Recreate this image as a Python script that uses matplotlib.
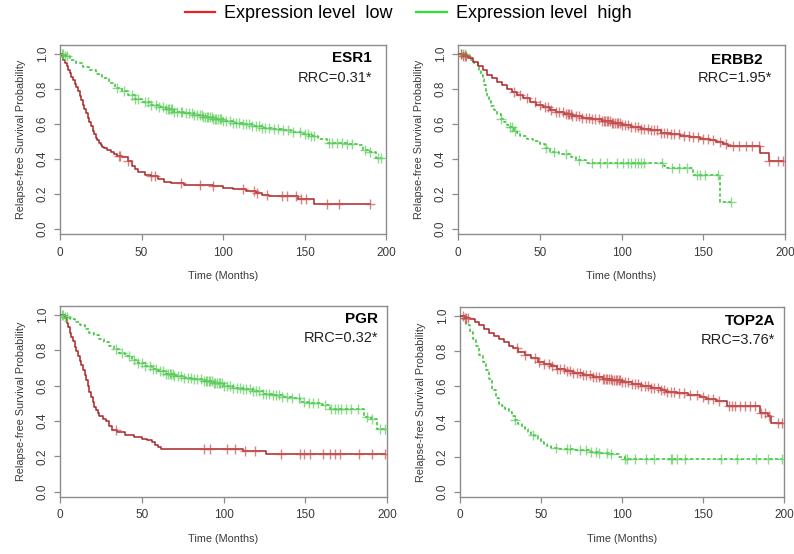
import numpy as np
import matplotlib
matplotlib.use('Agg')
import matplotlib.pyplot as plt
from matplotlib.lines import Line2D

plt.rcParams['font.family'] = ['Liberation Sans', 'DejaVu Sans']

# ---- dados (tempo em meses, sobrevida após o passo) ----
genes = ['ESR1', 'ERBB2', 'PGR', 'TOP2A']
rrc = ['RRC=0.31*', 'RRC=1.95*', 'RRC=0.32*', 'RRC=3.76*']

# ESR1
esr1_low_t = [0, 1, 2, 3, 4, 5, 6, 7, 8, 9, 10, 11, 12, 13, 14, 15, 16, 17, 18, 19, 20, 21, 22, 23, 24, 25, 26, 27,
              29, 31, 33, 35, 38, 42, 44, 46, 48, 52, 56, 60, 64, 68, 76, 94, 100, 106, 114, 120, 124, 128, 146, 156]
esr1_low_s = [1.0, 0.985, 0.965, 0.947, 0.93, 0.91, 0.89, 0.87, 0.85, 0.83, 0.81, 0.785, 0.76, 0.735, 0.71, 0.685,
              0.66, 0.635, 0.61, 0.585, 0.56, 0.54, 0.52, 0.505, 0.49, 0.48, 0.47, 0.46,
              0.45, 0.44, 0.43, 0.418, 0.41, 0.385, 0.36, 0.34, 0.325, 0.31, 0.30, 0.285, 0.27, 0.26, 0.252, 0.245,
              0.235, 0.225, 0.215, 0.205, 0.195, 0.185, 0.17, 0.14]
esr1_low_cens = [36, 37, 42, 56, 58, 74, 86, 94, 112, 119, 121, 127, 136, 139, 145, 148, 151, 164, 171, 190]
esr1_high_t = [0, 3, 6, 10, 14, 18, 22, 26, 30, 34, 38, 42, 46, 50, 55, 60, 65, 70, 76, 82, 88, 94, 100, 106, 112,
               118, 124, 130, 136, 142, 148, 153, 158, 164, 170, 176, 182, 186, 190, 194]
esr1_high_s = [1.0, 0.985, 0.965, 0.947, 0.925, 0.905, 0.885, 0.862, 0.835, 0.805, 0.785, 0.762, 0.742, 0.725, 0.71,
               0.695, 0.682, 0.67, 0.66, 0.648, 0.637, 0.628, 0.618, 0.607, 0.596, 0.585, 0.578, 0.57, 0.562, 0.553,
               0.54, 0.528, 0.515, 0.49, 0.488, 0.485, 0.48, 0.448, 0.44, 0.405]
esr1_high_cens = [1, 2, 3, 4, 35, 39, 44, 46, 48, 52, 54, 56, 59, 61, 63, 65, 66, 67, 68, 69, 70, 72, 74, 75, 77, 79,
                  81, 82, 84, 86, 87, 88, 89, 90, 91, 92, 93, 94, 95, 96, 97, 98, 99, 100, 102, 104, 106, 108, 110,
                  112, 114, 116, 118, 120, 122, 124, 126, 128, 131, 134, 137, 140, 143, 147, 150, 152, 154, 156, 165,
                  167, 170, 173, 176, 179, 187, 190, 195, 197]

# ERBB2
erbb2_low_t = [0, 3, 6, 9, 12, 15, 18, 21, 24, 27, 30, 33, 36, 40, 44, 48, 52, 56, 60, 65, 70, 76, 82, 88, 94, 100,
               106, 112, 118, 124, 130, 136, 142, 148, 154, 158, 162, 165, 185, 190]
erbb2_low_s = [1.0, 0.99, 0.975, 0.955, 0.93, 0.905, 0.88, 0.86, 0.84, 0.82, 0.80, 0.78, 0.765, 0.745, 0.725, 0.71,
               0.695, 0.68, 0.668, 0.655, 0.645, 0.635, 0.625, 0.615, 0.605, 0.593, 0.583, 0.572, 0.562, 0.55, 0.54,
               0.532, 0.525, 0.515, 0.505, 0.495, 0.485, 0.475, 0.435, 0.39]
erbb2_low_cens = [2, 3, 4, 5, 34, 38, 42, 47, 50, 53, 55, 57, 60, 62, 64, 66, 67, 68, 69, 70, 72, 74, 76, 78, 80, 82,
                  84, 86, 88, 89, 90, 91, 92, 93, 94, 95, 96, 97, 98, 99, 100, 102, 104, 106, 108, 110, 112, 114, 116,
                  118, 120, 122, 124, 126, 128, 130, 132, 135, 138, 141, 144, 147, 150, 153, 156, 160, 164, 168, 172,
                  176, 180, 184, 190, 196, 199]
erbb2_high_t = [0, 5, 8, 10, 12, 13, 14, 15, 16, 17, 18, 19, 20, 22, 24, 26, 28, 30, 32, 34, 36, 38, 42, 46, 50, 53,
                56, 62, 69, 72, 78, 126, 128, 144, 160]
erbb2_high_s = [1.0, 0.985, 0.965, 0.945, 0.925, 0.905, 0.88, 0.855, 0.82, 0.79, 0.76, 0.73, 0.70, 0.68, 0.655, 0.63,
                0.61, 0.595, 0.58, 0.56, 0.545, 0.53, 0.515, 0.50, 0.485, 0.46, 0.44, 0.43, 0.41, 0.395, 0.375, 0.36,
                0.35, 0.31, 0.155]
erbb2_high_cens = [2, 3, 4, 26, 32, 33, 35, 54, 59, 66, 74, 82, 87, 91, 97, 101, 104, 106, 108, 110, 112, 114, 125,
                   131, 135, 140, 146, 148, 151, 159, 167]

# PGR
pgr_low_t = [0, 3, 4, 5, 6, 7, 8, 9, 10, 11, 12, 13, 14, 15, 16, 17, 18, 19, 20, 21, 22, 23, 24, 26, 28, 30, 32, 35,
             40, 45, 50, 53, 56, 58, 60, 62, 112, 126]
pgr_low_s = [1.0, 0.98, 0.955, 0.93, 0.90, 0.875, 0.85, 0.82, 0.795, 0.77, 0.74, 0.715, 0.69, 0.66, 0.63, 0.60, 0.565,
             0.535, 0.505, 0.48, 0.46, 0.445, 0.43, 0.41, 0.40, 0.37, 0.35, 0.335, 0.32, 0.31, 0.30, 0.29, 0.28,
             0.265, 0.255, 0.24, 0.228, 0.213]
pgr_low_cens = [34, 88, 92, 102, 107, 113, 119, 135, 147, 149, 153, 161, 165, 168, 171, 183, 191, 199]
pgr_high_t = [0, 3, 6, 9, 12, 15, 18, 21, 24, 27, 30, 33, 36, 40, 44, 48, 52, 56, 60, 65, 70, 76, 82, 88, 94, 100,
              106, 112, 118, 124, 130, 136, 142, 147, 152, 160, 165, 186, 190, 194]
pgr_high_s = [1.0, 0.99, 0.975, 0.96, 0.94, 0.92, 0.90, 0.885, 0.865, 0.845, 0.825, 0.805, 0.785, 0.765, 0.745, 0.725,
              0.71, 0.695, 0.68, 0.665, 0.655, 0.645, 0.635, 0.625, 0.612, 0.60, 0.588, 0.578, 0.568, 0.555, 0.545,
              0.538, 0.53, 0.51, 0.50, 0.49, 0.465, 0.42, 0.41, 0.355]
pgr_high_cens = [1, 2, 3, 4, 34, 38, 42, 45, 48, 50, 52, 55, 57, 59, 61, 63, 65, 66, 67, 68, 69, 70, 72, 74, 76, 78,
                 80, 82, 84, 86, 88, 89, 90, 91, 92, 93, 94, 95, 96, 97, 98, 99, 100, 102, 104, 106, 108, 110, 112,
                 114, 116, 118, 120, 122, 124, 126, 128, 130, 132, 134, 136, 139, 142, 146, 149, 152, 155, 158, 162,
                 166, 168, 170, 172, 175, 178, 182, 188, 191, 196, 199]

# TOP2A
top2a_low_t = [0, 3, 6, 9, 12, 15, 18, 21, 24, 27, 30, 33, 36, 40, 44, 48, 52, 56, 60, 65, 70, 76, 82, 88, 94, 100,
               106, 112, 118, 124, 127, 134, 141, 148, 152, 158, 165, 185, 190, 192]
top2a_low_s = [1.0, 0.99, 0.98, 0.965, 0.945, 0.925, 0.905, 0.888, 0.87, 0.85, 0.83, 0.815, 0.795, 0.775, 0.758, 0.74,
               0.725, 0.712, 0.70, 0.688, 0.676, 0.665, 0.652, 0.642, 0.633, 0.623, 0.612, 0.60, 0.59, 0.578, 0.565,
               0.56, 0.552, 0.54, 0.527, 0.515, 0.485, 0.445, 0.432, 0.392]
top2a_low_cens = [2, 3, 4, 5, 35, 40, 46, 49, 52, 55, 57, 60, 62, 64, 66, 68, 70, 72, 74, 76, 78, 80, 82, 84, 86, 88,
                  89, 90, 91, 92, 93, 94, 95, 96, 97, 98, 99, 100, 102, 104, 106, 108, 110, 112, 114, 116, 118, 120,
                  122, 124, 126, 128, 130, 132, 135, 138, 142, 146, 150, 153, 156, 160, 166, 168, 170, 173, 176, 179,
                  182, 186, 188, 191, 196, 199]
top2a_high_t = [0, 2, 4, 6, 8, 10, 12, 14, 16, 18, 20, 22, 24, 26, 28, 30, 32, 34, 36, 38, 40, 42, 44, 46, 48, 50,
                52, 54, 56, 60, 70, 80, 86, 92, 98, 102]
top2a_high_s = [1.0, 0.98, 0.95, 0.91, 0.87, 0.83, 0.78, 0.735, 0.69, 0.64, 0.58, 0.53, 0.50, 0.485, 0.47, 0.455,
                0.43, 0.405, 0.385, 0.37, 0.355, 0.34, 0.325, 0.315, 0.30, 0.285, 0.27, 0.26, 0.25, 0.245, 0.238,
                0.228, 0.22, 0.212, 0.20, 0.188]
top2a_high_cens = [34, 45, 59, 66, 68, 74, 78, 81, 84, 86, 91, 93, 102, 103, 108, 115, 120, 130, 131, 134, 139, 161,
                   171, 183, 190, 199]

curvas = [
    (esr1_low_t, esr1_low_s, esr1_low_cens, esr1_high_t, esr1_high_s, esr1_high_cens),
    (erbb2_low_t, erbb2_low_s, erbb2_low_cens, erbb2_high_t, erbb2_high_s, erbb2_high_cens),
    (pgr_low_t, pgr_low_s, pgr_low_cens, pgr_high_t, pgr_high_s, pgr_high_cens),
    (top2a_low_t, top2a_low_s, top2a_low_cens, top2a_high_t, top2a_high_s, top2a_high_cens),
]

# posição dos eixos (px): esquerda, topo, direita, baixo
caixas = [(60, 45, 386, 234), (458, 45, 785, 234), (60, 306, 387, 497), (460, 307, 784, 497)]
pos_titulo = [(0.957, 0.93, 0.957, 0.825), (0.933, 0.92, 0.96, 0.825),
              (0.972, 0.93, 0.972, 0.83), (0.972, 0.925, 0.972, 0.825)]

COR_BAIXO = '#a82626'
COR_BAIXO_CENS = '#c85050'
COR_ALTO = '#35c035'
COR_ALTO_CENS = '#5ccc5c'
CINZA = '#8c8c8c'
TEXTO = '#3a3a3a'

W, H = 794, 554


def desenhar_km(ax, t, s, cens, cor, cor_cens, tracejado):
    t = np.asarray(t, float)
    s = np.asarray(s, float)
    fim = max(max(cens), t[-1])
    tx = np.append(t, fim)
    sx = np.append(s, s[-1])
    ls = (0, (2.2, 1.5)) if tracejado else '-'
    ax.step(tx, sx, where='post', color=cor, lw=1.1, linestyle=ls, zorder=3)
    # marcas de censura sobre a curva
    idx = np.searchsorted(t, cens, side='right') - 1
    ax.plot(cens, s[idx], linestyle='none', marker='+', ms=6.5, mew=1.0,
            color=cor_cens, alpha=0.7, zorder=4)


fig = plt.figure(figsize=(W / 100, H / 100), dpi=100)

for i in range(4):
    l, tp, r, b = caixas[i]
    ax = fig.add_axes([l / W, 1 - b / H, (r - l) / W, (b - tp) / H])
    lt, ls_, lc, ht, hs, hc = curvas[i]
    desenhar_km(ax, ht, hs, hc, COR_ALTO, COR_ALTO_CENS, True)
    desenhar_km(ax, lt, ls_, lc, COR_BAIXO, COR_BAIXO_CENS, False)

    ax.set_xlim(0, 200)
    ax.set_ylim(-0.03, 1.05)
    ax.set_xticks([0, 50, 100, 150, 200])
    ax.set_yticks([0.0, 0.2, 0.4, 0.6, 0.8, 1.0])
    ax.set_yticklabels(['0.0', '0.2', '0.4', '0.6', '0.8', '1.0'], rotation=90, va='center')
    for sp in ax.spines.values():
        sp.set_color(CINZA)
        sp.set_linewidth(1.0)
    ax.tick_params(direction='out', length=4, width=0.9, color=CINZA, labelcolor=TEXTO, labelsize=8.5)
    ax.tick_params(axis='x', pad=5)
    ax.tick_params(axis='y', pad=4)
    ax.set_xlabel('Time (Months)', fontsize=7.8, color=TEXTO, labelpad=9)
    ax.set_ylabel('Relapse-free Survival Probability', fontsize=7.8, color=TEXTO, labelpad=8)

    xg, yg, xr, yr = pos_titulo[i]
    ax.text(xg, yg, genes[i], transform=ax.transAxes, ha='right', va='center',
            fontsize=11, fontweight='bold', color='black')
    ax.text(xr, yr, rrc[i], transform=ax.transAxes, ha='right', va='center',
            fontsize=10.5, color='#222222')

# legenda no topo
handles = [Line2D([], [], color='#ee2020', lw=1.6), Line2D([], [], color='#30e030', lw=1.6)]
fig.legend(handles, ['Expression level  low', 'Expression level  high'], loc='center',
           bbox_to_anchor=(0.514, 1 - 14 / H), ncol=2, frameon=False, fontsize=13,
           handlelength=1.7, handletextpad=0.5, columnspacing=1.3, borderpad=0)

fig.savefig('out.png', dpi=100)
